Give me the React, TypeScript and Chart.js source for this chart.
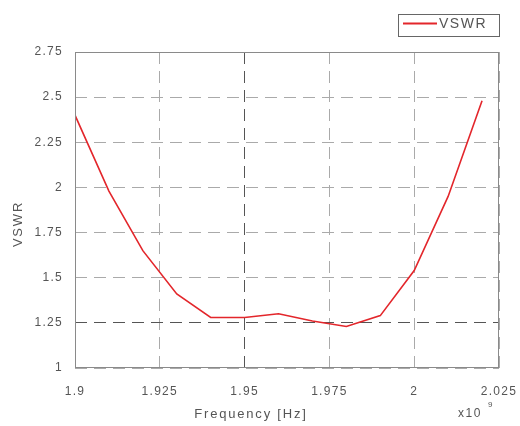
import React, { useEffect, useRef } from "react";
import { Chart, registerables } from "chart.js";

Chart.register(...registerables);

// Data (frequency in units of 1e9 Hz)
const freqs = [1.9, 1.91, 1.92, 1.93, 1.94, 1.95, 1.96, 1.97, 1.98, 1.99, 2.0, 2.01, 2.02];
const vswr = [2.4, 1.98, 1.65, 1.41, 1.28, 1.28, 1.3, 1.26, 1.23, 1.29, 1.54, 1.95, 2.48];

const xTickValues = [1.9, 1.925, 1.95, 1.975, 2.0, 2.025];
const xTickLabels = ["1.9", "1.925", "1.95", "1.975", "2", "2.025"];
const yTickValues = [1, 1.25, 1.5, 1.75, 2, 2.25, 2.5, 2.75];
const yTickLabels = ["1", "1.25", "1.5", "1.75", "2", "2.25", "2.5", "2.75"];

const seriesName = "VSWR";
const xTitle = "Frequency [Hz]";
const yTitle = "VSWR";

const FONT = "'Liberation Sans', Arial, sans-serif";
const RED = "#e3262b";
const TEXT = "#555";
const SPACING = "1.3px";

const spacingPlugin = {
  id: "spacing",
  beforeLayout(chart: any) {
    chart.ctx.letterSpacing = SPACING;
  },
  beforeDraw(chart: any) {
    chart.ctx.letterSpacing = SPACING;
  },
};

const decorPlugin = {
  id: "decor",
  afterDraw(chart: any) {
    const ctx = chart.ctx;
    const { left, right, top, bottom } = chart.chartArea;
    ctx.save();
    // box
    ctx.strokeStyle = "#8a8a8a";
    ctx.lineWidth = 1;
    ctx.setLineDash([]);
    ctx.strokeRect(left + 0.5, top + 0.5, right - left - 1, bottom - top - 1);
    // legend
    const lx = 398, ly = 14, lw = 101, lh = 22;
    ctx.fillStyle = "#fff";
    ctx.fillRect(lx, ly, lw, lh);
    ctx.strokeStyle = "#666";
    ctx.strokeRect(lx + 0.5, ly + 0.5, lw, lh);
    ctx.strokeStyle = RED;
    ctx.lineWidth = 2;
    ctx.beginPath();
    ctx.moveTo(lx + 5, ly + 9.5);
    ctx.lineTo(lx + 39, ly + 9.5);
    ctx.stroke();
    ctx.fillStyle = TEXT;
    ctx.letterSpacing = "1.5px";
    ctx.font = `14px ${FONT}`;
    ctx.textBaseline = "middle";
    ctx.textAlign = "left";
    ctx.fillText(seriesName, lx + 41, ly + 10);
    // axis titles
    ctx.font = `13px ${FONT}`;
    ctx.textAlign = "center";
    ctx.letterSpacing = "1.8px";
    ctx.fillText(xTitle, 251, 414);
    ctx.save();
    ctx.translate(18, 224);
    ctx.rotate(-Math.PI / 2);
    ctx.fillText(yTitle, 0, 0);
    ctx.restore();
    // exponent
    ctx.textAlign = "left";
    ctx.letterSpacing = "1.5px";
    ctx.font = `12px ${FONT}`;
    ctx.fillText("x10", 458, 414);
    ctx.letterSpacing = "0px";
    ctx.font = `8px ${FONT}`;
    ctx.fillText("9", 488, 405);
    ctx.restore();
  },
};

export default function App() {
  const ref = useRef<HTMLCanvasElement | null>(null);
  useEffect(() => {
    if (!ref.current) return;
    const chart = new Chart(ref.current, {
      type: "line",
      data: {
        datasets: [
          {
            label: seriesName,
            data: freqs.map((f, i) => ({ x: f, y: vswr[i] })),
            borderColor: RED,
            borderWidth: 1.6,
            pointRadius: 0,
            tension: 0,
            fill: false,
          },
        ],
      },
      options: {
        animation: false,
        responsive: false,
        maintainAspectRatio: false,
        layout: { padding: { left: 0, right: 21, top: 52, bottom: 0 } },
        plugins: { legend: { display: false }, tooltip: { enabled: false } },
        scales: {
          x: {
            type: "linear",
            min: 1.9,
            max: 2.025,
            afterBuildTicks: (s: any) => {
              s.ticks = xTickValues.map((v) => ({ value: v }));
            },
            afterFit: (s: any) => {
              s.height = 58;
              s.paddingRight = 0;
              s.paddingLeft = 0;
            },
            ticks: {
              padding: 16,
              color: TEXT,
              font: { family: FONT, size: 12 },
              maxRotation: 0,
              autoSkip: false,
              callback: (v: any) => {
                const i = xTickValues.findIndex((t) => Math.abs(t - v) < 1e-6);
                return i >= 0 ? xTickLabels[i] : "";
              },
            },
            grid: {
              drawTicks: false,
              color: (c: any) =>
                c.tick && Math.abs(c.tick.value - 1.95) < 1e-6 ? "#555" : "#aaa",
              lineWidth: 1,
            },
            border: { display: false, dash: [12, 7] },
            title: { display: false },
          },
          y: {
            type: "linear",
            min: 1,
            max: 2.75,
            afterBuildTicks: (s: any) => {
              s.ticks = yTickValues.map((v) => ({ value: v }));
            },
            afterFit: (s: any) => {
              s.width = 75;
              s.paddingTop = 0;
              s.paddingBottom = 0;
            },
            ticks: {
              padding: 12,
              color: TEXT,
              font: { family: FONT, size: 12 },
              autoSkip: false,
              callback: (v: any) => {
                const i = yTickValues.findIndex((t) => Math.abs(t - v) < 1e-6);
                return i >= 0 ? yTickLabels[i] : "";
              },
            },
            grid: {
              drawTicks: false,
              color: (c: any) =>
                c.tick && Math.abs(c.tick.value - 1.25) < 1e-6 ? "#555" : "#aaa",
              lineWidth: 1,
            },
            border: { display: false, dash: [12, 7] },
            title: { display: false },
          },
        },
      },
      plugins: [spacingPlugin, decorPlugin],
    } as any);
    return () => chart.destroy();
  }, []);
  return (
    <div style={{ position: "fixed", left: 0, top: 0, width: 520, height: 426, background: "#fff" }}>
      <canvas ref={ref} width={520} height={426} style={{ width: 520, height: 426 }} />
    </div>
  );
}
